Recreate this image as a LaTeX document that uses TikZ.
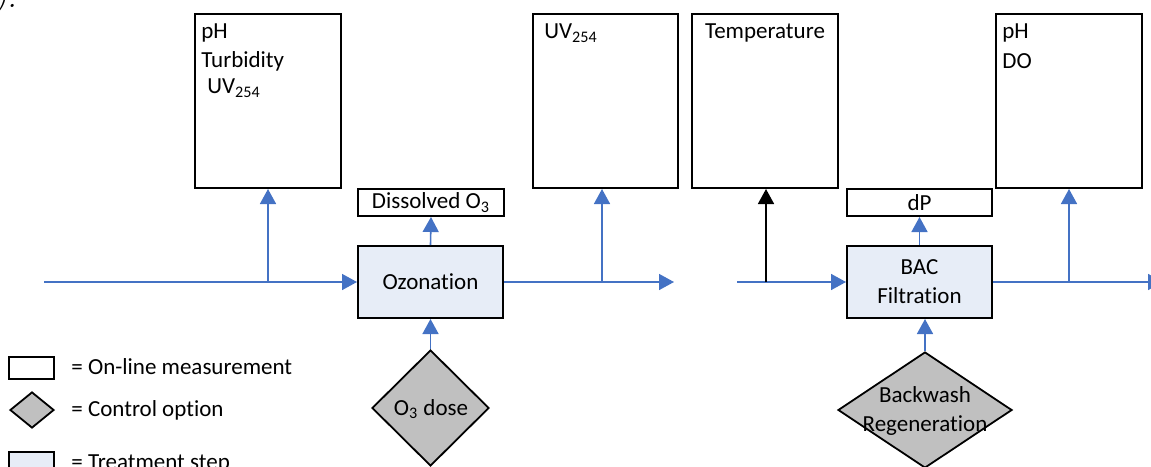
\documentclass[tikz,border=0pt]{standalone}
\usepackage{fontspec}
\setmainfont{Carlito}[Ligatures=NoCommon]
\newfontfamily\capserif{Latin Modern Roman}
\usetikzlibrary{arrows.meta,shapes.geometric}
\definecolor{flowblue}{HTML}{4472C4}
\definecolor{treatblue}{HTML}{E7EDF7}
\definecolor{ctrlgray}{HTML}{C0C0C0}
\newcommand{\diagfont}{\fontsize{11.5}{13.9}\selectfont}
\begin{document}
\begin{tikzpicture}[x=0.5pt,y=-0.5pt,
  font=\diagfont,
  flow/.style={draw=flowblue, line width=0.8pt, -{Triangle[length=7.5pt,width=8pt]}},
  tempflow/.style={draw=black, line width=0.8pt, -{Triangle[length=7.5pt,width=8pt]}},
  meas/.style={draw=black, line width=1pt, fill=white, inner sep=0pt, rectangle},
  treat/.style={draw=black, line width=1pt, fill=treatblue, inner sep=0pt, rectangle, align=center},
  ctrl/.style={draw=black, line width=0.9pt, fill=ctrlgray, diamond, inner sep=0pt},
  txt/.style={inner sep=0pt, align=left},
  ctxt/.style={inner sep=0pt, align=center},
]
\useasboundingbox (0,0) rectangle (1151,466);
\clip (0,0) rectangle (1151,466);

% caption fragment
\node[inner sep=0pt, anchor=base west, font=\capserif\fontsize{16}{18}\selectfont\itshape] (capfrag) at (-6,7) {):};

% measurement boxes (top)
\node[meas, minimum width=73pt, minimum height=87pt] (m1) at (268,101) {};
\node[meas, minimum width=72.5pt, minimum height=87pt] (m2) at (605.5,101) {};
\node[meas, minimum width=73pt, minimum height=87pt] (m3) at (765,101) {};
\node[meas, minimum width=73pt, minimum height=87pt] (m4) at (1069,101) {};

\node[txt, anchor=west] (m1a) at (201,33) {pH};
\node[txt, anchor=west] (m1b) at (201,61) {Turbidity};
\node[txt, anchor=west] (m1c) at (207,88) {UV\textsubscript{254}};
\node[txt, anchor=west] (m2a) at (544,33) {UV\textsubscript{254}};
\node[ctxt] (m3a) at (765,33) {Temperature};
\node[txt, anchor=west] (m4a) at (1002,33) {pH};
\node[txt, anchor=west] (m4b) at (1002,61) {DO};

% small measurement boxes
\node[meas, minimum width=73pt, minimum height=13.5pt] (diss) at (431,202.5) {Dissolved O\textsubscript{3}};
\node[meas, minimum width=72.5pt, minimum height=13.5pt] (dp) at (919.5,202.5) {dP};

% treatment steps
\node[treat, minimum width=72.5pt, minimum height=36pt] (ozo) at (430.5,282) {Ozonation};
\node[treat, minimum width=72.5pt, minimum height=36pt] (bac) at (919.5,282) {BAC\\[0.6pt]Filtration};

% control options
\node[ctrl, minimum width=58.5pt, minimum height=58pt] (o3) at (430.5,408) {};
\node[ctxt] (o3t) at (431,409) {O\textsubscript{3} dose};
\node[ctrl, minimum width=87pt, minimum height=58pt] (bw) at (925,410) {};
\node[ctxt] (bwt) at (925,411) {Backwash\\[0.6pt]Regeneration};

% flow coordinates
\coordinate (in1) at (44,282);
\coordinate (j1) at (268,282);
\coordinate (out1) at (674,282);
\coordinate (j2) at (602,282);
\coordinate (in2) at (737,282);
\coordinate (j3) at (766,282);
\coordinate (out2) at (1163,282);
\coordinate (j4) at (1069,282);

% first train
\draw[flow] (in1) -- (ozo.west);
\draw[flow] (j1) -- (j1 |- m1.south);
\draw[flow] (ozo.east) -- (out1);
\draw[flow] (j2) -- (j2 |- m2.south);
\draw[flow] (ozo.north) -- (diss.south);
\draw[flow] (o3.north) -- (ozo.south);

% second train
\draw[flow] (in2) -- (bac.west);
\draw[tempflow] (j3) -- (j3 |- m3.south);
\draw[flow] (bac.east) -- (out2);
\draw[flow] (j4) -- (j4 |- m4.south);
\draw[flow] (bac.north) -- (dp.south);
\draw[flow] (bw.north) -- (bw.north |- bac.south);

% legend
\node[meas, minimum width=22.5pt, minimum height=11pt] (lg1) at (31.5,368) {};
\node[ctrl, minimum width=22pt, minimum height=18pt] (lg2) at (32,410) {};
\node[treat, minimum width=22.5pt, minimum height=18pt] (lg3) at (31.5,470) {};
\node[txt, anchor=west] (lt1) at (71,367) {= On-line measurement};
\node[txt, anchor=west] (lt2) at (71,410) {= Control option};
\node[txt, anchor=west] (lt3) at (71,464) {= Treatment step};
\end{tikzpicture}
\end{document}
